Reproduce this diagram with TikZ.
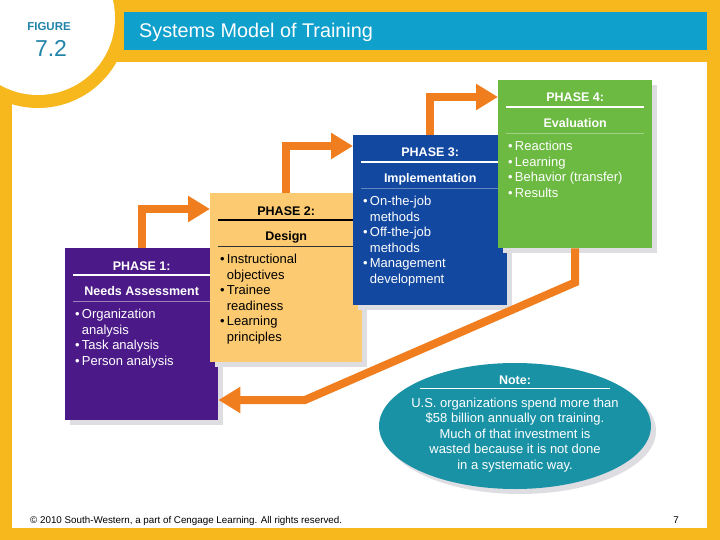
\documentclass[tikz,border=0pt]{standalone}
\usepackage{fontspec}
\setmainfont{Liberation Sans}
\usetikzlibrary{calc,shapes.geometric,shadows,arrows.meta}
\definecolor{frameyellow}{RGB}{246,184,28}
\definecolor{titleblue}{RGB}{16,160,204}
\definecolor{figteal}{RGB}{32,132,168}
\definecolor{purp}{RGB}{76,26,136}
\definecolor{sand}{RGB}{252,202,112}
\definecolor{deepblue}{RGB}{18,72,160}
\definecolor{leaf}{RGB}{108,186,66}
\definecolor{arrowc}{RGB}{240,126,30}
\definecolor{noteteal}{RGB}{26,146,166}
\definecolor{shade}{RGB}{222,222,226}
\tikzset{
  phase/.style={rectangle, anchor=north west, inner sep=0pt,
    drop shadow={shadow xshift=5pt, shadow yshift=-5pt, fill=shade, opacity=1}},
  head/.style={font=\bfseries\fontsize{12.5}{15.5}\selectfont, anchor=base, inner sep=0pt},
  items/.style={font=\fontsize{13}{15.5}\selectfont, align=left, anchor=north west, inner sep=0pt},
  thickrule/.style={line width=2pt},
  thinrule/.style={line width=0.8pt},
  flow/.style={draw=arrowc, line width=8pt, -{Triangle[length=22pt,width=25pt]}}
}
\newcommand{\bul}{\textbullet\,}
\newcommand{\ind}{\phantom{\textbullet\,}}

\begin{document}
\begin{tikzpicture}[x=1pt,y=-1pt]
\useasboundingbox (0,0) rectangle (720,540);
\clip (0,0) rectangle (720,540);
% frame and title
\fill[frameyellow] (0,0) rectangle (720,540);
\fill[white] (12,62) rectangle (707,528);
\fill[frameyellow] (38,18) circle (90pt);
\fill[white] (38,18) circle (77pt);
\fill[titleblue] (124,12) rectangle (707,50);
\node[font=\bfseries\fontsize{11.5}{12}\selectfont, text=figteal, anchor=base] (fig) at (49,30.7) {FIGURE};
\node[font=\fontsize{23}{24}\selectfont, text=figteal, anchor=base] (fignum) at (51,56.7) {7.2};
\node[font=\fontsize{19.8}{22}\selectfont, text=white, anchor=base west, inner sep=0pt] (title) at (139,37.3) {Systems Model of Training};

% phase 1
\node[phase, fill=purp, minimum width=153pt, minimum height=172pt] (p1) at (65,248) {};
\node[head, text=white] (p1h) at ($(p1.north)+(0,22)$) {PHASE 1:};
\draw[thickrule, white] ($(p1.north west)+(8,27)$) -- ($(p1.north east)+(-8,27)$);
\node[head, text=white] (p1s) at ($(p1.north)+(0,47.5)$) {Needs Assessment};
\draw[thinrule, white, opacity=0.45] ($(p1.north west)+(8,53)$) -- ($(p1.north east)+(-8,53)$);
\node[items, text=white] (p1l) at ($(p1.north west)+(10,61)$)
  {\bul Organization\\\ind analysis\\\bul Task analysis\\\bul Person analysis};

% phase 2
\node[phase, fill=sand, minimum width=152pt, minimum height=169pt] (p2) at (210,193) {};
\node[head, text=black] (p2h) at ($(p2.north)+(0,22)$) {PHASE 2:};
\draw[thickrule, black] ($(p2.north west)+(8,27)$) -- ($(p2.north east)+(-8,27)$);
\node[head, text=black] (p2s) at ($(p2.north)+(0,47.5)$) {Design};
\draw[thinrule, black!80] ($(p2.north west)+(8,53)$) -- ($(p2.north east)+(-8,53)$);
\node[items, text=black] (p2l) at ($(p2.north west)+(10,61)$)
  {\bul Instructional\\\ind objectives\\\bul Trainee\\\ind readiness\\\bul Learning\\\ind principles};

% phase 3
\node[phase, fill=deepblue, minimum width=154pt, minimum height=170pt] (p3) at (353,135) {};
\node[head, text=white] (p3h) at ($(p3.north)+(0,22)$) {PHASE 3:};
\draw[thickrule, white] ($(p3.north west)+(8,27)$) -- ($(p3.north east)+(-8,27)$);
\node[head, text=white] (p3s) at ($(p3.north)+(0,47.5)$) {Implementation};
\draw[thinrule, white, opacity=0.35] ($(p3.north west)+(8,53)$) -- ($(p3.north east)+(-8,53)$);
\node[items, text=white] (p3l) at ($(p3.north west)+(10,61)$)
  {\bul On-the-job\\\ind methods\\\bul Off-the-job\\\ind methods\\\bul Management\\\ind development};

% phase 4
\node[phase, fill=leaf, minimum width=154pt, minimum height=168pt] (p4) at (498,80) {};
\node[head, text=white] (p4h) at ($(p4.north)+(0,22)$) {PHASE 4:};
\draw[thickrule, white] ($(p4.north west)+(8,27)$) -- ($(p4.north east)+(-8,27)$);
\node[head, text=white] (p4s) at ($(p4.north)+(0,47.5)$) {Evaluation};
\draw[thinrule, white, opacity=0.35] ($(p4.north west)+(8,53)$) -- ($(p4.north east)+(-8,53)$);
\node[items, text=white] (p4l) at ($(p4.north west)+(10,61)$)
  {\bul Reactions\\\bul Learning\\\bul Behavior (transfer)\\\bul Results};

% note
\node[ellipse, fill=noteteal, inner sep=0pt, minimum width=272pt, minimum height=126pt,
  drop shadow={shadow xshift=5pt, shadow yshift=-5pt, fill=shade, opacity=1}] (note) at (515,426) {};
\node[head, text=white] (noteh) at ($(note.north)+(0,22)$) {Note:};
\draw[thinrule, white, line width=1.2pt] ($(note.north)+(-95,26)$) -- ($(note.north)+(95,26)$);
\node[items, text=white, align=center, anchor=north] (notetxt) at ($(note.north)+(0,35)$)
  {U.S. organizations spend more than\\\$58 billion annually on training.\\Much of that investment is\\wasted because it is not done\\in a systematic way.};

% arrows
\draw[flow] (p1.north) |- ($(p2.north west)+(0,16)$);
\draw[flow] (p2.north) |- ($(p3.north west)+(0,11)$);
\draw[flow] (p3.north) |- ($(p4.north west)+(0,17)$);
\coordinate (drop) at ($(p4.south)+(0,34)$);
\coordinate (knee) at (305,400);
\draw[flow] (p4.south) -- (drop) -- (knee) -- (p1.east |- knee);

% footer
\node[font=\fontsize{9.8}{11}\selectfont, anchor=base west, inner sep=0pt] (credit) at (30,523)
  {\textcopyright{} 2010 South-Western, a part of Cengage Learning. All rights reserved.};
\node[font=\fontsize{9.8}{11}\selectfont, anchor=base, inner sep=0pt] (pageno) at (676,523) {7};
\end{tikzpicture}
\end{document}
